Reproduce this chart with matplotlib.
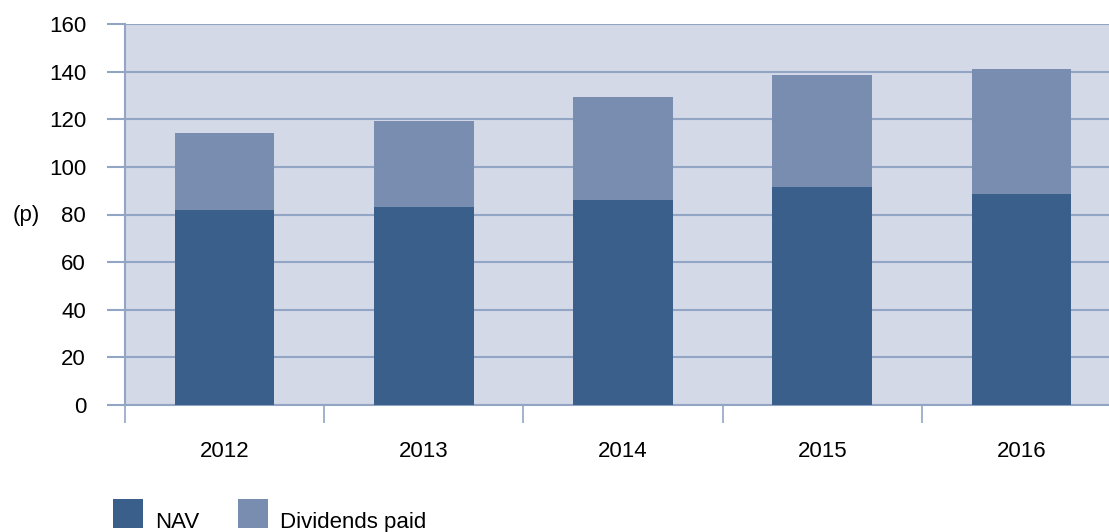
import matplotlib
matplotlib.use("Agg")
import matplotlib.pyplot as plt
from matplotlib.patches import Rectangle
import numpy as np

years = ["2012", "2013", "2014", "2015", "2016"]
nav = [81.9, 83.2, 86.1, 91.6, 88.6]
dividends = [32.3, 36.2, 43.3, 47.0, 52.5]
yticks = [0, 20, 40, 60, 80, 100, 120, 140, 160]

plt.rcParams['font.family'] = ['Liberation Sans', 'DejaVu Sans']

nav_col = "#3a5f8a"
div_col = "#798db0"
bg_col = "#d3d9e7"
grid_col = "#92a5c4"
W, H = 1109, 532

fig = plt.figure(figsize=(W/100, H/100), dpi=100)
ax = fig.add_axes([125/W, 127/H, 984/W, 381/H])
ax.set_facecolor(bg_col)

x = np.arange(len(years))
b1 = ax.bar(x, nav, width=0.5, color=nav_col, label="NAV", zorder=3)
b2 = ax.bar(x, dividends, width=0.5, bottom=nav, color=div_col, label="Dividends paid", zorder=3)

ax.set_ylim(0, 160)
ax.set_xlim(-0.5, 4.5 - 12/199)
ax.set_yticks(yticks)
ax.set_yticklabels([str(v) for v in yticks], fontsize=16)
ax.yaxis.grid(True, color=grid_col, linewidth=1.5, zorder=1)
ax.set_axisbelow(True)

# category boundary ticks, labels at centres
ax.set_xticks(np.arange(-0.5, 4.5, 1.0))
ax.set_xticklabels([])
ax.set_xticks(x, minor=True)
ax.set_xticklabels(years, minor=True, fontsize=16)
ax.tick_params(axis='x', which='major', length=13, width=1.2, color=grid_col)
ax.tick_params(axis='x', which='minor', length=0, pad=26)
ax.tick_params(axis='y', length=13, width=1.5, color=grid_col, pad=15)

for s in ["top", "right"]:
    ax.spines[s].set_visible(False)
for s in ["left", "bottom"]:
    ax.spines[s].set_color(grid_col)
    ax.spines[s].set_linewidth(1.5)

fig.text(13/W, 1 - 216/H, "(p)", fontsize=16, ha='left', va='center')

# legend, text sits on the bottom of the swatch
for (lx, tx), lab, col in zip([(113, 155), (238, 280)], ["NAV", "Dividends paid"], [nav_col, div_col]):
    fig.add_artist(Rectangle((lx/W, 4/H), 30/W, 29/H, transform=fig.transFigure,
                             facecolor=col, edgecolor='none'))
    fig.text(tx/W, 4/H, lab, fontsize=16, ha='left', va='baseline')

fig.savefig("out.png", dpi=100)
